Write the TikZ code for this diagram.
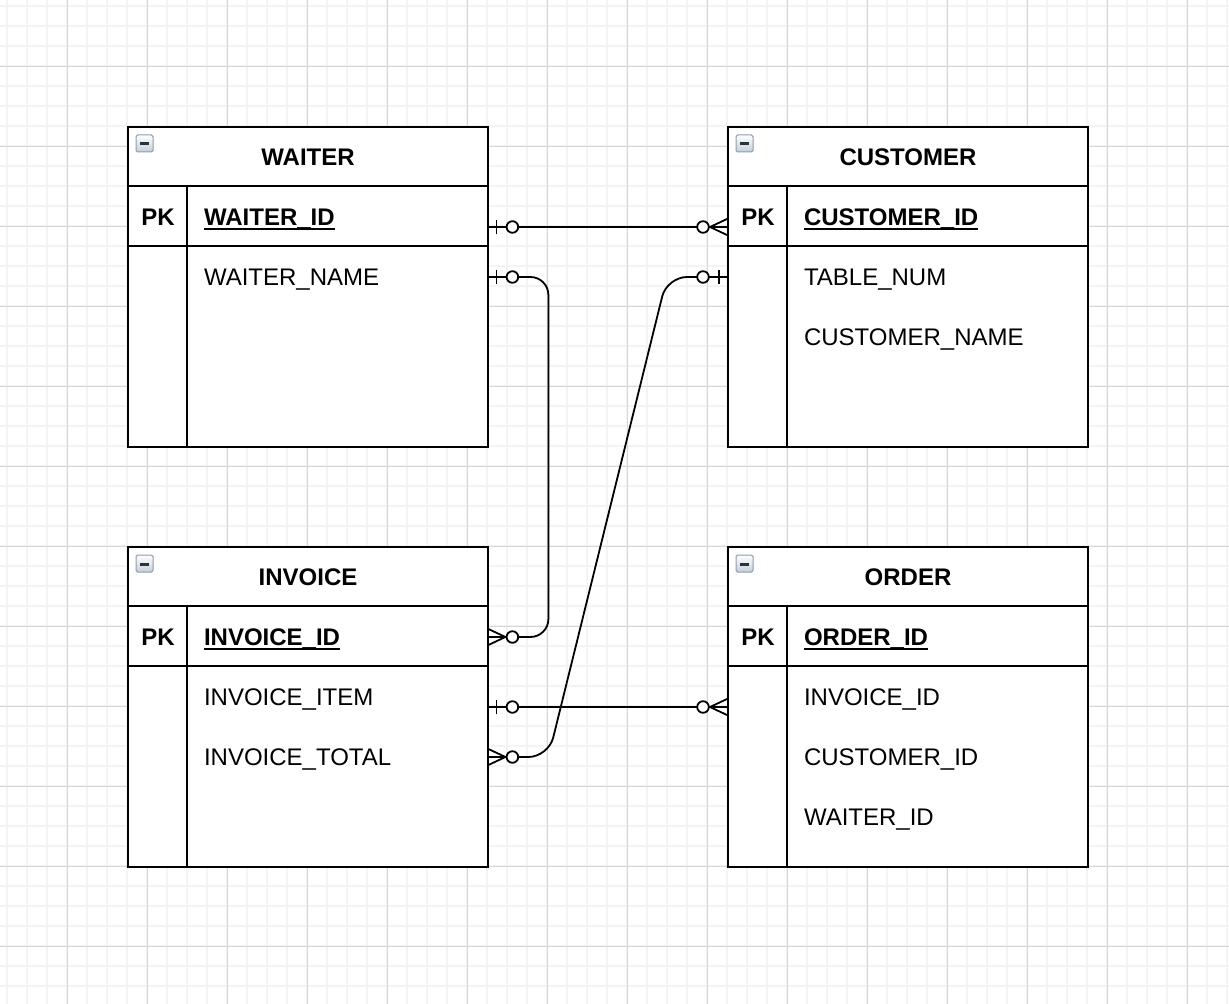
\documentclass[tikz,border=0pt]{standalone}
\usepackage{fontspec}
\setmainfont{Liberation Sans}
\definecolor{gridminor}{RGB}{244,244,244}
\definecolor{gridmajor}{RGB}{214,214,214}
\definecolor{iconborder}{RGB}{140,156,176}
\definecolor{iconbot}{RGB}{196,206,216}
\definecolor{iconbar}{RGB}{45,50,55}
\newcommand\pkname[1]{\setbox0\hbox{#1}\rlap{\rule[-2pt]{\wd0}{0.8pt}}\box0}
\tikzset{
  minorl/.style={gridminor, line width=0.8pt},
  majorl/.style={gridmajor, line width=0.45pt},
  tbl/.style={draw, fill=white, line width=1pt, minimum width=180pt, minimum height=160pt, inner sep=0pt},
  tline/.style={line width=1pt},
  txt/.style={font=\fontsize{12pt}{14pt}\selectfont, text height=8.6pt, text depth=0pt},
  hdr/.style={txt, font=\fontsize{12pt}{14pt}\selectfont\bfseries, inner sep=0pt},
  pkc/.style={txt, font=\fontsize{12pt}{14pt}\selectfont\bfseries, inner sep=0pt},
  row/.style={txt, inner xsep=8pt, inner ysep=0pt, text width=134pt, align=left, minimum height=30pt},
  pkrow/.style={row, font=\fontsize{12pt}{14pt}\selectfont\bfseries},
  conn/.style={line width=0.9pt},
  zeroone/.pic={\draw[conn] (8,-7) -- (8,7); \draw[conn, fill=white] (24,0) circle[radius=2.9pt];},
  zeromany/.pic={\draw[conn] (0,-8) -- (17,0) -- (0,8); \draw[conn] (0,0) -- (17,0); \draw[conn, fill=white] (24,0) circle[radius=2.9pt];},
  icon/.pic={\draw[iconborder, line width=0.5pt, top color=white, bottom color=iconbot, rounded corners=0.8pt] (0,0) rectangle (17,17); \fill[iconbar] (4,7.5) rectangle (13,10.5);}
}
\begin{document}
\begin{tikzpicture}[x=0.5pt, y=-0.5pt]
\useasboundingbox (0,0) rectangle (1229,1004);
\fill[white] (0,0) rectangle (1229,1004);
% grid
\foreach \x in {7,27,...,1227} \draw[minorl] (\x,0) -- (\x,1004);
\foreach \y in {6,26,...,1004} \draw[minorl] (0,\y) -- (1229,\y);
\foreach \x in {67,147,...,1227} \draw[majorl] (\x,0) -- (\x,1004);
\foreach \y in {66,146,...,1004} \draw[majorl] (0,\y) -- (1229,\y);

% tables
\node[tbl] (waiter) at (308,287) {};
\node[tbl] (customer) at (908,287) {};
\node[tbl] (invoice) at (308,707) {};
\node[tbl] (order) at (908,707) {};
\foreach \t in {waiter,customer,invoice,order} {
  \draw[tline] ([yshift=-30pt]\t.north west) -- ([yshift=-30pt]\t.north east);
  \draw[tline] ([yshift=-60pt]\t.north west) -- ([yshift=-60pt]\t.north east);
  \draw[tline] ([shift={(30pt,-30pt)}]\t.north west) -- ([xshift=30pt]\t.south west);
  \pic at ([shift={(4.5pt,-4.5pt)}]\t.north west) {icon};
}

% WAITER
\node[hdr] (waiter-h) at (308,157) {WAITER};
\node[pkc] (waiter-pk) at (158,217) {PK};
\node[pkrow] (waiter-id) at (338,217) {\pkname{WAITER\_ID}};
\node[row] (waiter-name) at (338,277) {WAITER\_NAME};

% CUSTOMER
\node[hdr] (customer-h) at (908,157) {CUSTOMER};
\node[pkc] (customer-pk) at (758,217) {PK};
\node[pkrow] (customer-id) at (938,217) {\pkname{CUSTOMER\_ID}};
\node[row] (customer-table) at (938,277) {TABLE\_NUM};
\node[row] (customer-name) at (938,337) {CUSTOMER\_NAME};

% INVOICE
\node[hdr] (invoice-h) at (308,577) {INVOICE};
\node[pkc] (invoice-pk) at (158,637) {PK};
\node[pkrow] (invoice-id) at (338,637) {\pkname{INVOICE\_ID}};
\node[row] (invoice-item) at (338,697) {INVOICE\_ITEM};
\node[row] (invoice-total) at (338,757) {INVOICE\_TOTAL};

% ORDER
\node[hdr] (order-h) at (908,577) {ORDER};
\node[pkc] (order-pk) at (758,637) {PK};
\node[pkrow] (order-id) at (938,637) {\pkname{ORDER\_ID}};
\node[row] (order-invid) at (938,697) {INVOICE\_ID};
\node[row] (order-custid) at (938,757) {CUSTOMER\_ID};
\node[row] (order-waiterid) at (938,817) {WAITER\_ID};

% attachment points on the table edges
\coordinate (wid-out) at ([yshift=-5pt]waiter-id.east);
\coordinate (cid-in) at ([yshift=-5pt]customer-id.west -| customer.west);
\coordinate (ctab-out) at (customer-table.west -| customer.west);
\coordinate (iitem-out) at ([yshift=-5pt]invoice-item.east);
\coordinate (oinv-in) at ([yshift=-5pt]order-invid.west -| order.west);

% connectors
\draw[conn] (wid-out) -- (cid-in);
\draw[conn, rounded corners=9pt] (waiter-name.east) -- ++(60,0) |- (invoice-id.east);
\draw[conn, rounded corners=10pt] (ctab-out) -- ++(-60,0) -- ([xshift=30pt]invoice-total.east) -- (invoice-total.east);
\draw[conn] (iitem-out) -- (oinv-in);

% end markers
\pic at (wid-out) {zeroone};
\pic[rotate=180] at (cid-in) {zeromany};
\pic at (waiter-name.east) {zeroone};
\pic at (invoice-id.east) {zeromany};
\pic[rotate=180] at (ctab-out) {zeroone};
\pic at (invoice-total.east) {zeromany};
\pic at (iitem-out) {zeroone};
\pic[rotate=180] at (oinv-in) {zeromany};
\end{tikzpicture}
\end{document}
